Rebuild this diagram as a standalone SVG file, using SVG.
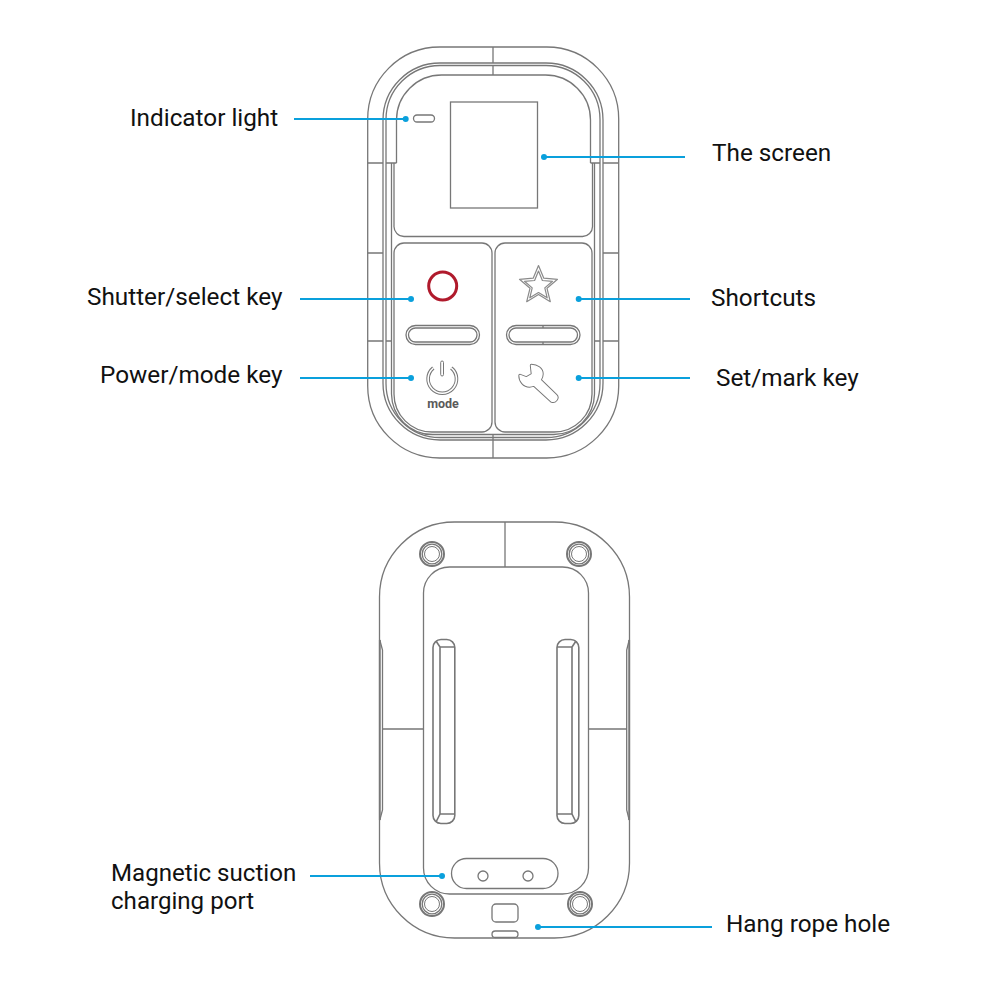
<svg xmlns="http://www.w3.org/2000/svg" width="1000" height="1000" viewBox="0 0 1000 1000">
<style>
.l{fill:none;stroke:#777;stroke-width:1.3}
.s{fill:none;stroke:#8a8a8a;stroke-width:1.2;stroke-linejoin:round}
.c{fill:none;stroke:#0aa0dc;stroke-width:2}
.p{fill:#0aa0dc}
text{font-family:Roboto,"Liberation Sans",sans-serif;font-size:24.3px;fill:#111}
.t2{font-size:24.1px}
</style>
<defs>
<g id="screw"><circle r="12" fill="none" stroke="#777" stroke-width="2"/><circle r="9.800" class="l"/><circle r="7.500" class="l" style="stroke-width:1"/></g>
</defs>
<rect width="1000" height="1000" fill="#fff"/>
<g id="front-remote">
<rect class="l" x="367.700" y="47" width="251" height="411" rx="72" ry="72"/>
<rect class="l" x="383" y="63" width="220" height="377" rx="57"/>
<rect class="l" x="386" y="65.500" width="214" height="372" rx="54"/>
<path class="l" d="M493 47V63M493 65.500V75M493 434.500V458M367.700 163H383M386 163H396.500M590.500 163H600M603 163H618.700M367.700 253H383M603 253H618.700M367.700 341H383M386 341H392M594 341H600M603 341H618.700"/>
</g>
<g id="screen-panel">
<path class="l" d="M396.500 163V120A45 45 0 0 1 441.500 75H545.500A45 45 0 0 1 590.500 120V163"/>
<path class="l" d="M394 163V226A10 10 0 0 0 404 236.500H582A10 10 0 0 0 592.500 226V163"/>
<path class="l" d="M391.500 163V394A41 41 0 0 0 432.500 434.500H553A41 41 0 0 0 594.500 394V163"/>
</g>
<g id="indicator"><rect class="l" x="413.500" y="115" width="21" height="7" rx="3.500"/></g>
<g id="screen"><rect class="l" x="450.500" y="102" width="87" height="106"/></g>
<g id="shutter-key">
<path class="l" d="M404 243H482A10 10 0 0 1 492 253V422A10 10 0 0 1 482 432H432A38 38 0 0 1 394 394V253A10 10 0 0 1 404 243Z"/>
<circle cx="442.700" cy="286" r="14" fill="none" stroke="#b01a2c" stroke-width="3"/>
<rect class="l" x="406" y="325.500" width="73.500" height="19" rx="9.500"/>
<rect class="l" x="408.500" y="328" width="68.500" height="14" rx="7"/>
</g>
<g id="power-key">
<path d="M433.300 368A14.200 14.200 0 1 0 451.300 368" fill="none" stroke="#777" stroke-width="3.600"/>
<path d="M433.300 368A14.200 14.200 0 1 0 451.300 368" fill="none" stroke="#fff" stroke-width="1.600"/>
<rect class="l" x="440.700" y="361" width="2.800" height="15" rx="1.400" style="stroke-width:1"/>
<text x="443" y="408" text-anchor="middle" style="font-size:12.500px;font-weight:700;fill:#5a5a5a">mode</text>
</g>
<g id="shortcut-key">
<path class="l" d="M505 243H582A10 10 0 0 1 592 253V394A38 38 0 0 1 554 432H505A10 10 0 0 1 495 422V253A10 10 0 0 1 505 243Z"/>
<path class="s" d="M538.500 265.500L543.800 278.200L557.500 279.300L547 288.300L550.300 301.700L538.500 294.500L526.700 301.700L530 288.300L519.500 279.300L533.200 278.200Z"/>
<path class="s" d="M538.500 271L542.400 280.500L552.500 281.300L544.800 287.900L547.200 297.800L538.500 292.500L529.800 297.800L532.200 287.900L524.500 281.300L534.600 280.500Z"/>
<rect class="l" x="506.500" y="325.500" width="73.500" height="19" rx="9.500"/>
<rect class="l" x="509" y="328" width="68.500" height="14" rx="7"/>
<path class="l" d="M543 325.500V328M543 342V344.500"/>
</g>
<g id="set-key">
<path d="M531.500 365.500C537 365.500 542 369 542 374C542 376.500 541 378.500 540 380L556 395.500C558.500 398 555 402.500 551.500 401L534 385C532.500 385.500 531 386 529.500 386C524 386 520 381 520 375.500L526.500 378L532.500 374.500Z" fill="none" stroke="#777" stroke-width="3.400" stroke-linejoin="round"/>
<path d="M531.500 365.500C537 365.500 542 369 542 374C542 376.500 541 378.500 540 380L556 395.500C558.500 398 555 402.500 551.500 401L534 385C532.500 385.500 531 386 529.500 386C524 386 520 381 520 375.500L526.500 378L532.500 374.500Z" fill="#fff" stroke="#fff" stroke-width="1.500" stroke-linejoin="round"/>
</g>
<g id="back-remote">
<rect class="l" x="379.500" y="522" width="250" height="416" rx="75"/>
<path d="M379.800 640V820M629.200 640V820" fill="none" stroke="#777" stroke-width="1.800"/>
<path class="l" d="M379.800 640L382.500 650V810L379.800 820M629.200 640L626.700 650V810L629.200 820M505 522V567M382.500 729H423.500M588.500 729H626.700"/>
</g>
<g id="back-plate"><rect class="l" x="423.500" y="567" width="165" height="327" rx="26"/></g>
<g id="screws">
<use href="#screw" x="432" y="554"/><use href="#screw" x="579" y="554"/><use href="#screw" x="432" y="904"/><use href="#screw" x="580" y="904"/>
</g>
<g id="slot-left">
<rect class="l" style="stroke-width:1.600" x="433" y="639.500" width="21.800" height="184" rx="8"/>
<path class="l" style="stroke-width:1.600" d="M440 647V814L436 822M440 647L436 641M440 647H454.800M440 814H454.800"/>
</g>
<g id="slot-right">
<rect class="l" style="stroke-width:1.600" x="557" y="639.500" width="21.800" height="184" rx="8"/>
<path class="l" style="stroke-width:1.600" d="M572 647V814L576 822M572 647L576 641M572 647H557M572 814H557"/>
</g>
<g id="charging-port">
<rect class="l" x="451.500" y="858.500" width="106.500" height="30" rx="15"/>
<circle class="l" cx="483" cy="876" r="5"/><circle class="l" cx="528" cy="876" r="5"/>
</g>
<g id="rope-hole">
<rect class="l" x="492" y="904" width="26" height="18" rx="4"/>
<rect class="l" x="492" y="931" width="26" height="6.500" rx="3.200"/>
</g>
<g id="connectors">
<path class="c" d="M294 119H405.500M544 157H685M300 299H411M300 378H411M578.700 299H690M578.700 378H690M310 876H442M538 927H712"/>
<circle class="p" cx="405.700" cy="119" r="3"/><circle class="p" cx="544" cy="157" r="3"/><circle class="p" cx="411" cy="299" r="3"/><circle class="p" cx="411" cy="378" r="3"/><circle class="p" cx="578.700" cy="299" r="3"/><circle class="p" cx="578.700" cy="378" r="3"/><circle class="p" cx="442" cy="876" r="3"/><circle class="p" cx="538" cy="927" r="3"/>
</g>
<g id="labels">
<text x="130" y="126">Indicator light</text>
<text x="712" y="161">The screen</text>
<text x="87" y="305">Shutter/select key</text>
<text x="711" y="306">Shortcuts</text>
<text x="100" y="383">Power/mode key</text>
<text x="716" y="386">Set/mark key</text>
<text class="t2" x="111" y="880.800">Magnetic suction</text>
<text class="t2" x="111" y="909.100">charging port</text>
<text x="726" y="932">Hang rope hole</text>
</g>
</svg>
